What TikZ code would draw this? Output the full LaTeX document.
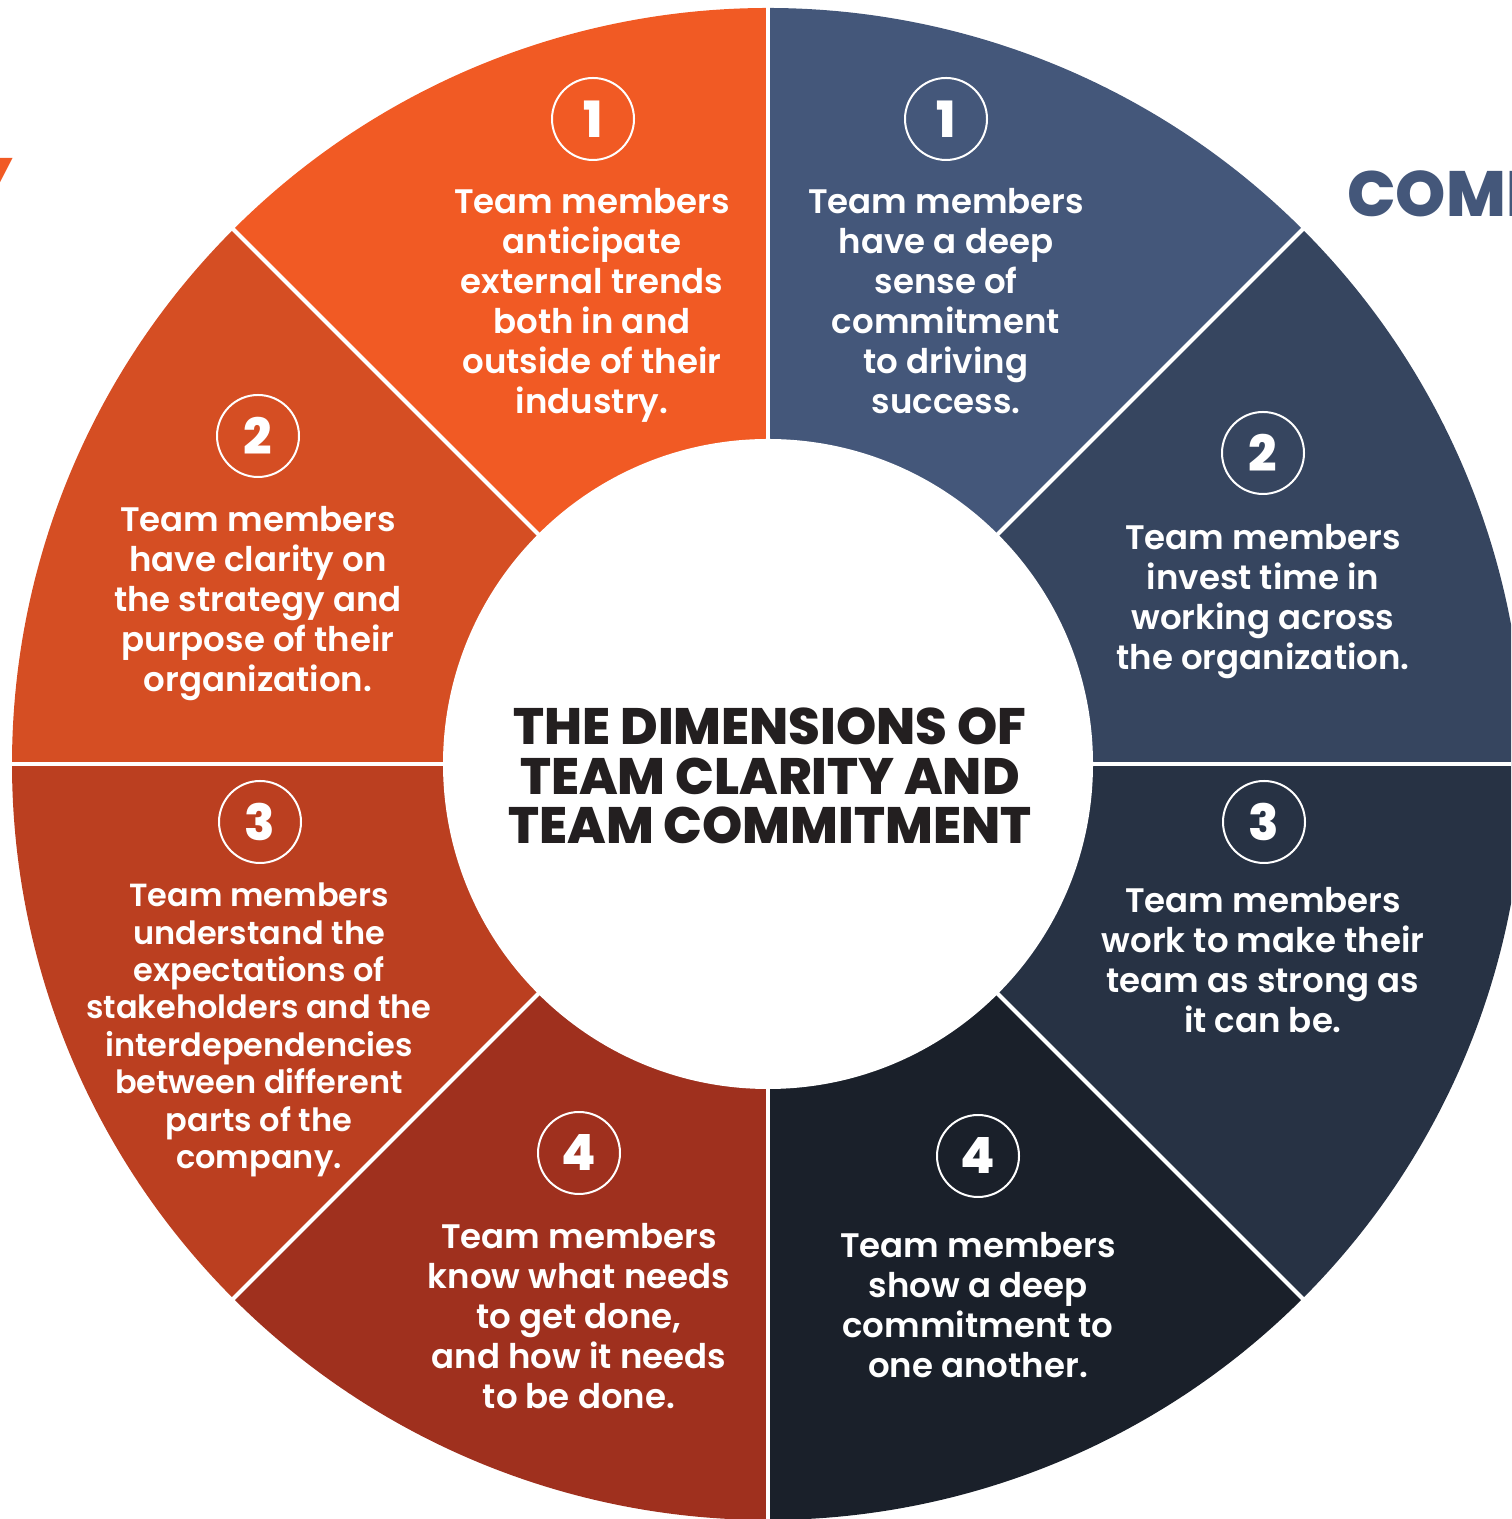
\documentclass[tikz,border=0pt]{standalone}
\usepackage{fontspec}
\setmainfont{Poppins}[UprightFont=* SemiBold, BoldFont=* ExtraBold]
\newfontfamily\heavyfont{Poppins}[UprightFont=* ExtraBold]
\usepackage{xcolor}

% clarity side (orange) and commitment side (blue)
\definecolor{clarA}{HTML}{F15A24}
\definecolor{clarB}{HTML}{D54E23}
\definecolor{clarC}{HTML}{BB3F20}
\definecolor{clarD}{HTML}{9F301E}
\definecolor{commA}{HTML}{44577A}
\definecolor{commB}{HTML}{36455F}
\definecolor{commC}{HTML}{273244}
\definecolor{commD}{HTML}{1A202A}
\definecolor{titleink}{HTML}{231F20}

\begin{document}
\begin{tikzpicture}[x=0.5pt, y=0.5pt,
		num/.style={circle, draw=white, line width=1pt, minimum size=41pt, inner sep=0pt,
			text=white, font=\bfseries\fontsize{25}{25}\selectfont},
		point/.style={text=white, align=center, font=\fontsize{17}{20}\selectfont},
		spoke/.style={white, line width=2pt}]
	\useasboundingbox (0,0) rectangle (1511,1519);
	\clip (0,0) rectangle (1511,1519);

	\node[anchor=base east, inner sep=0pt, text=clarA, font=\heavyfont\fontsize{32}{32}\selectfont] (clarity) at (14,1315) {CLARITY};
	\node[anchor=base west, inner sep=0pt, text=commA, font=\heavyfont\fontsize{32}{32}\selectfont] (commitment) at (1347,1302) {COMMITMENT};

	\begin{scope}[shift={(768,755)}]
		% wheel
		\fill[clarA] (0,0) -- (90:756) arc[start angle=90, end angle=135, radius=756] -- cycle;
		\fill[clarB] (0,0) -- (135:756) arc[start angle=135, end angle=180, radius=756] -- cycle;
		\fill[clarC] (0,0) -- (180:756) arc[start angle=180, end angle=225, radius=756] -- cycle;
		\fill[clarD] (0,0) -- (225:756) arc[start angle=225, end angle=270, radius=756] -- cycle;
		\fill[commA] (0,0) -- (45:756) arc[start angle=45, end angle=90, radius=756] -- cycle;
		\fill[commB] (0,0) -- (0:756) arc[start angle=0, end angle=45, radius=756] -- cycle;
		\fill[commC] (0,0) -- (-45:756) arc[start angle=-45, end angle=0, radius=756] -- cycle;
		\fill[commD] (0,0) -- (-90:756) arc[start angle=-90, end angle=-45, radius=756] -- cycle;

		\draw[spoke] (0,0) -- (0:770);
		\draw[spoke] (0,0) -- (45:770);
		\draw[spoke] (0,0) -- (90:770);
		\draw[spoke] (0,0) -- (135:770);
		\draw[spoke] (0,0) -- (180:770);
		\draw[spoke] (0,0) -- (225:770);
		\draw[spoke] (0,0) -- (270:770);
		\draw[spoke] (0,0) -- (315:770);

		\fill[white] (0,0) circle[radius=325];

		\node[text=titleink, align=center, font=\heavyfont\fontsize{25.6}{24.75}\selectfont] (title) at (2,-12)
			{THE DIMENSIONS OF\\TEAM CLARITY AND\\TEAM COMMITMENT};

		% clarity
		\node[num] (c1) at (-175,645) {1};
		\node[point] (c1t) at (-176,459) {Team members\\anticipate\\external trends\\both in and\\outside of their\\industry.};
		\node[num] (c2) at (-510,328) {2};
		\node[point] (c2t) at (-510,160) {Team members\\have clarity on\\the strategy and\\purpose of their\\organization.};
		\node[num] (c3) at (-508,-58) {3};
		\node[point, font=\fontsize{16}{18.7}\selectfont] (c3t) at (-509,-266) {Team members\\understand the\\expectations of\\stakeholders and the\\interdependencies\\between different\\parts of the\\company.};
		\node[num] (c4) at (-189,-389) {4};
		\node[point] (c4t) at (-189,-552) {Team members\\know what needs\\to get done,\\and how it needs\\to be done.};

		% commitment
		\node[num] (m1) at (178,645) {1};
		\node[point] (m1t) at (178,463) {Team members\\have a deep\\sense of\\commitment\\to driving\\success.};
		\node[num] (m2) at (495,311) {2};
		\node[point] (m2t) at (495,162) {Team members\\invest time in\\working across\\the organization.};
		\node[num] (m3) at (496,-58) {3};
		\node[point] (m3t) at (495,-196) {Team members\\work to make their\\team as strong as\\it can be.};
		\node[num] (m4) at (210,-392) {4};
		\node[point] (m4t) at (210,-541) {Team members\\show a deep\\commitment to\\one another.};
	\end{scope}
\end{tikzpicture}
\end{document}
